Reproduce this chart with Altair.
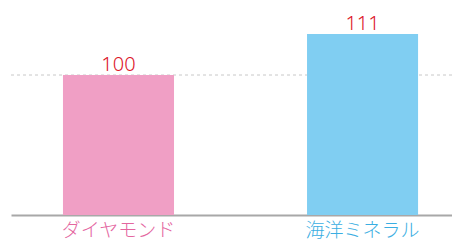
import altair as alt
import pandas as pd

categories = ["ダイヤモンド", "海洋ミネラル"]
values = [100, 111]
bar_colors = ["#f09fc5", "#80cef2"]
label_colors = ["#e4669f", "#3aaee2"]
reference_value = [100]

Y_MIN = 62.44
Y_MAX = 117.98

df = pd.DataFrame({"cat": categories, "val": values, "color": bar_colors})
ref = pd.DataFrame({"ref": reference_value})

FONT = "Noto Sans CJK JP"

x_enc = alt.X(
    "cat:N",
    sort=categories,
    scale=alt.Scale(paddingInner=0.545, paddingOuter=0.176, align=0.605),
    axis=alt.Axis(
        title=None,
        labelAngle=0,
        ticks=False,
        domainColor="#a8a8a8",
        domainWidth=2,
        labelFontSize=19,
        labelFont=FONT,
        labelFontWeight=300,
        labelPadding=6,
        labelColor=alt.expr(
            f"datum.value == '{categories[0]}' ? '{label_colors[0]}' : '{label_colors[1]}'"
        ),
    ),
)
y_scale = alt.Scale(domain=[Y_MIN, Y_MAX], zero=False, nice=False)

rule = alt.Chart(ref).mark_rule(
    color="#c8c8c8", strokeDash=[3, 3], strokeWidth=1
).encode(y=alt.Y("ref:Q", scale=y_scale, axis=None))

bars = alt.Chart(df).mark_bar().encode(
    x=x_enc,
    y=alt.Y("val:Q", scale=y_scale, axis=None),
    y2=alt.datum(Y_MIN),
    color=alt.Color("color:N", scale=None),
)

texts = alt.Chart(df).mark_text(
    baseline="alphabetic", dy=-4, fontSize=20, font="Noto Sans", fontWeight=300,
    color="#dc1428"
).encode(
    x=alt.X("cat:N", sort=categories),
    y=alt.Y("val:Q", scale=y_scale, axis=None),
    text="val:Q",
)

chart = (
    alt.layer(rule, bars, texts)
    .properties(
        width=441,
        height=207,
        autosize=alt.AutoSizeParams(type="none"),
        padding={"left": 3, "top": 0, "right": 0, "bottom": 25},
    )
    .configure_view(stroke=None)
)

chart.save("out.html", embed_options={"renderer": "svg", "actions": False})
